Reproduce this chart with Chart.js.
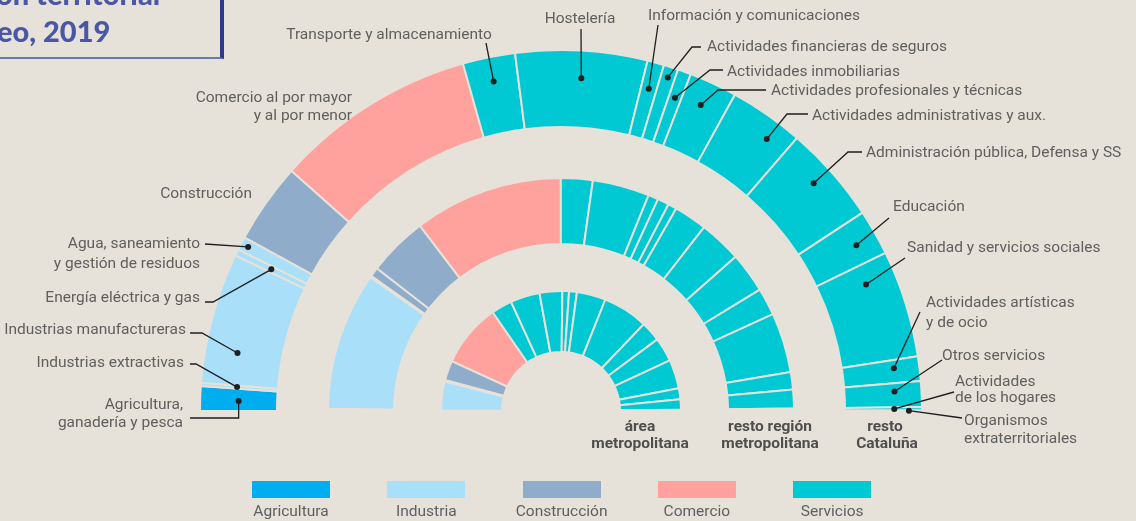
<!DOCTYPE html>
<html lang="es">
<head>
<meta charset="utf-8">
<script src="https://cdn.jsdelivr.net/npm/chart.js@4.4.1/dist/chart.umd.min.js"></script>
<style>
  html, body { margin:0; padding:0; }
  body { width:1136px; height:521px; overflow:hidden; position:relative; background:#e6e2d9;
         font-family: Roboto, "Noto Sans", "Liberation Sans", sans-serif; }
  #chart { position:absolute; left:0; top:0; }
  .t { position:absolute; white-space:nowrap; font-size:15.5px; line-height:18px; color:#5f5f5f; }
  .ring { font-weight:700; color:#4e4e4e; }
  .titlebox { position:absolute; left:-10px; top:-10px; width:230px; height:67px;
              border-right:4px solid #2d3a8c; border-bottom:2px solid #6a77b8; }
  .title { position:absolute; white-space:nowrap; font-family: Lato, "Open Sans", sans-serif;
           font-weight:900; font-size:29px; line-height:34px; color:#4a57a6; }
  .sw { position:absolute; height:17px; width:78px; }
</style>
</head>
<body>
<div class="titlebox"></div>
<canvas id="chart" width="1136" height="521"></canvas>
<script>
// ---------------- DATA ----------------
const categories = [
  "Agricultura, ganadería y pesca",
  "Industrias extractivas",
  "Industrias manufactureras",
  "Energía eléctrica y gas",
  "Agua, saneamiento y gestión de residuos",
  "Construcción",
  "Comercio al por mayor y al por menor",
  "Transporte y almacenamiento",
  "Hostelería",
  "Información y comunicaciones",
  "Actividades financieras de seguros",
  "Actividades inmobiliarias",
  "Actividades profesionales y técnicas",
  "Actividades administrativas y aux.",
  "Administración pública, Defensa y SS",
  "Educación",
  "Sanidad y servicios sociales",
  "Actividades artísticas y de ocio",
  "Otros servicios",
  "Actividades de los hogares",
  "Organismos extraterritoriales"
];
const sectorOfCategory = [
  "Agricultura", "Industria", "Industria", "Industria", "Industria",
  "Construcción", "Comercio",
  "Servicios", "Servicios", "Servicios", "Servicios", "Servicios", "Servicios", "Servicios",
  "Servicios", "Servicios", "Servicios", "Servicios", "Servicios", "Servicios", "Servicios"
];
const sectors = ["Agricultura", "Industria", "Construcción", "Comercio", "Servicios"];
const ringNames = ["área metropolitana", "resto región metropolitana", "resto Cataluña"];

// share of employment (%) per category
const restoCataluna = [2.2, 0.3, 11.7, 0.6, 1.2, 7.2, 18.1, 4.7, 11.8, 1.5, 1.3, 1.2, 4.3, 6.7, 8.8, 4.1, 9.6, 2.2, 2.3, 0.3, 0.05];
const restoRegionMetro = [0.2, 0.1, 19.2, 0.2, 1.3, 8.3, 20.7, 4.4, 7.9, 1.4, 1.6, 1.2, 4.6, 5.9, 5.6, 3.8, 8.3, 2.4, 2.6, 0.3, 0.05];
const areaMetro = [0.1, 0.05, 7.8, 0.2, 0.2, 5.3, 17.1, 5.6, 7.9, 6.1, 1.8, 2.1, 7.8, 12.2, 5.4, 6.5, 7.8, 2.9, 2.8, 0.3, 0.05];

// ---------------- STYLE ----------------
const BG = "#e6e2d9";
const sectorColors = {
  "Agricultura": "#00aeef",
  "Industria": "#a9dff8",
  "Construcción": "#8fadcb",
  "Comercio": "#ffa19c",
  "Servicios": "#00c9d3"
};
const colorsOf = () => sectorOfCategory.map(s => sectorColors[s]);
const middleColors = colorsOf();
middleColors[4] = sectorColors["Construcción"];

const ringStyle = { borderColor: BG, borderWidth: 2, hoverOffset: 0 };
const gap = { data: [1], backgroundColor: "rgba(0,0,0,0)", hoverBackgroundColor: "rgba(0,0,0,0)", borderWidth: 0 };

const OUTER_R = 361, INNER_R = 59;

// leader lines: dataset 0 (outer ring), category index, angular fraction, radial fraction, path points from the label
const leaders = [
  { i: 4,  t: 0.5,  rf: 0.9,  pts: [[205, 244]] },
  { i: 3,  t: 0.5,  rf: 0.5,  pts: [[205, 302], [213, 302]] },
  { i: 2,  t: 0.27, rf: 0.58, pts: [[190, 333], [202, 333]] },
  { i: 1,  t: 0.5,  rf: 0.53, pts: [[190, 364], [196, 364]] },
  { i: 0,  t: 0.45, rf: 0.5,  pts: [[190, 418]], elbow: true },
  { i: 7,  t: 0.5,  rf: 0.68, pts: [[486, 43]] },
  { i: 8,  t: 0.51, rf: 0.64, pts: [[581, 29]] },
  { i: 9,  t: 0.5,  rf: 0.65, pts: [[658, 25]] },
  { i: 10, t: 0.5,  rf: 0.86, pts: [[701, 47], [692, 47]] },
  { i: 11, t: 0.5,  rf: 0.64, pts: [[723, 70], [710, 70]] },
  { i: 12, t: 0.45, rf: 0.68, pts: [[766, 90], [718, 90]] },
  { i: 13, t: 0.69, rf: 0.74, pts: [[808, 114], [787, 114]] },
  { i: 14, t: 0.45, rf: 0.73, pts: [[862, 152], [848, 152]] },
  { i: 15, t: 0.55, rf: 0.71, pts: [[889, 218]] },
  { i: 16, t: 0.2,  rf: 0.6,  pts: [[905, 258]] },
  { i: 17, t: 0.35, rf: 0.67, pts: [[920, 312]] },
  { i: 18, t: 0.34, rf: 0.65, pts: [[942, 360]] },
  { i: 19, t: 0.5,  rf: 0.64, pts: [[954, 392]] },
  { i: 20, t: 0.5,  rf: 0.83, pts: [[962, 418]] }
];

const leaderPlugin = {
  id: "leaders",
  afterDatasetsDraw(chart) {
    const ctx = chart.ctx;
    const meta = chart.getDatasetMeta(0);
    ctx.save();
    ctx.strokeStyle = "#1f1f1f";
    ctx.fillStyle = "#1f1f1f";
    ctx.lineWidth = 1.3;
    leaders.forEach(l => {
      const arc = meta.data[l.i];
      const p = arc.getProps(["x", "y", "startAngle", "endAngle", "innerRadius", "outerRadius"], true);
      const a = p.startAngle + (p.endAngle - p.startAngle) * l.t;
      const r = p.innerRadius + (p.outerRadius - p.innerRadius) * l.rf;
      const dx = p.x + Math.cos(a) * r, dy = p.y + Math.sin(a) * r;
      const pts = l.pts.slice();
      if (l.elbow) pts.push([dx, pts[pts.length - 1][1]]);
      ctx.beginPath();
      ctx.moveTo(pts[0][0], pts[0][1]);
      for (let k = 1; k < pts.length; k++) ctx.lineTo(pts[k][0], pts[k][1]);
      ctx.lineTo(dx, dy);
      ctx.stroke();
      ctx.beginPath();
      ctx.arc(dx, dy, 3, 0, Math.PI * 2);
      ctx.fill();
    });
    ctx.restore();
  }
};

new Chart(document.getElementById("chart"), {
  type: "doughnut",
  data: {
    labels: categories,
    datasets: [
      Object.assign({ label: ringNames[2], data: restoCataluna, backgroundColor: colorsOf(), weight: 77 }, ringStyle),
      Object.assign({ weight: 51 }, gap),
      Object.assign({ label: ringNames[1], data: restoRegionMetro, backgroundColor: middleColors, weight: 66 }, ringStyle),
      Object.assign({ weight: 47 }, gap),
      Object.assign({ label: ringNames[0], data: areaMetro, backgroundColor: colorsOf(), weight: 61 }, ringStyle)
    ]
  },
  options: {
    responsive: false,
    animation: false,
    events: [],
    rotation: -90,
    circumference: 180,
    radius: OUTER_R,
    cutout: (INNER_R / OUTER_R * 100) + "%",
    layout: { padding: { left: 0, right: 14, top: 0, bottom: 60 } },
    plugins: { legend: { display: false }, tooltip: { enabled: false } }
  },
  plugins: [leaderPlugin]
});

// ---------------- TEXT ----------------
function addText(str, x, y, align, cls) {
  const d = document.createElement("div");
  d.className = "t" + (cls ? " " + cls : "");
  d.textContent = str;
  d.style.left = x + "px";
  d.style.top = (y - 9) + "px";
  if (align === "right") d.style.transform = "translateX(-100%)";
  else if (align === "center") d.style.transform = "translateX(-50%)";
  document.body.appendChild(d);
}
const labels = [
  ["Comercio al por mayor", 352, 97, "right"],
  ["y al por menor", 352, 115, "right"],
  ["Construcción", 252, 193, "right"],
  ["Agua, saneamiento", 200, 243, "right"],
  ["y gestión de residuos", 200, 263, "right"],
  ["Energía eléctrica y gas", 200, 297, "right"],
  ["Industrias manufactureras", 186, 329, "right"],
  ["Industrias extractivas", 184, 362, "right"],
  ["Agricultura,", 183, 404, "right"],
  ["ganadería y pesca", 183, 422, "right"],
  ["Transporte y almacenamiento", 389, 34, "center"],
  ["Hostelería", 580, 18, "center"],
  ["Información y comunicaciones", 648, 15, "left"],
  ["Actividades financieras de seguros", 707, 46, "left"],
  ["Actividades inmobiliarias", 727, 71, "left"],
  ["Actividades profesionales y técnicas", 771, 90, "left"],
  ["Actividades administrativas y aux.", 812, 115, "left"],
  ["Administración pública, Defensa y SS", 866, 152, "left"],
  ["Educación", 893, 206, "left"],
  ["Sanidad y servicios sociales", 907, 247, "left"],
  ["Actividades artísticas", 926, 302, "left"],
  ["y de ocio", 926, 322, "left"],
  ["Otros servicios", 942, 355, "left"],
  ["Actividades", 955, 381, "left"],
  ["de los hogares", 955, 397, "left"],
  ["Organismos", 964, 420, "left"],
  ["extraterritoriales", 964, 438, "left"]
];
labels.forEach(l => addText(l[0], l[1], l[2], l[3]));

// ring names
addText("área", 640, 426, "center", "ring");
addText("metropolitana", 640, 443, "center", "ring");
addText("resto región", 770, 426, "center", "ring");
addText("metropolitana", 770, 443, "center", "ring");
addText("resto", 885, 426, "center", "ring");
addText("Cataluña", 887, 443, "center", "ring");

// legend
sectors.forEach((s, k) => {
  const x = 252 + k * 135.3;
  const sw = document.createElement("div");
  sw.className = "sw";
  sw.style.left = x + "px";
  sw.style.top = "481px";
  sw.style.background = sectorColors[s];
  document.body.appendChild(sw);
  addText(s, x + 39, 511, "center");
});

// title (cut off by the page edge, as in the reference)
const t1 = document.createElement("div");
t1.className = "title"; t1.textContent = "ón territorial";
t1.style.left = "-4px"; t1.style.top = "-23px";
document.body.appendChild(t1);
const t2 = document.createElement("div");
t2.className = "title"; t2.textContent = "eo, 2019";
t2.style.left = "-3px"; t2.style.top = "14px";
document.body.appendChild(t2);
</script>
</body>
</html>
